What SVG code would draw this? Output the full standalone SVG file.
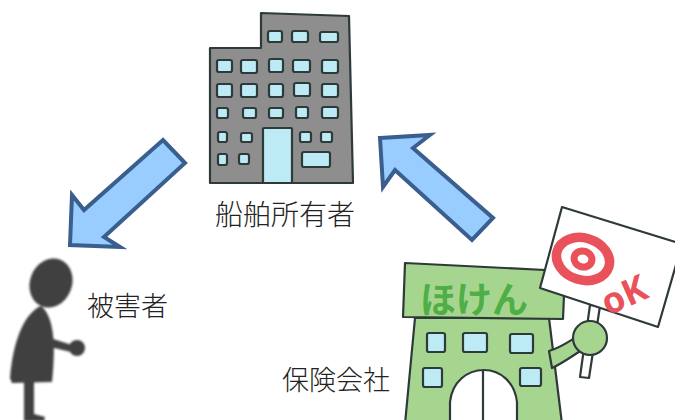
<svg xmlns="http://www.w3.org/2000/svg" width="675" height="420" viewBox="0 0 675 420">
  <defs>
    <filter id="soft" x="-10%" y="-10%" width="120%" height="120%">
      <feGaussianBlur stdDeviation="0.8"/>
    </filter>
  </defs>
  <style>
    .label { font-family: "Noto Sans CJK JP", "Noto Sans", sans-serif; font-weight: 300; fill: #222; font-size: 27px; }
    .ink { stroke: #2e3a3a; stroke-width: 2.2; stroke-linejoin: round; }
    .gray { fill: #8e8e8e; }
    .glass { fill: #bdebf5; }
    .green { fill: #a6d58f; }
    .paper { fill: #ffffff; }
    .arrow { fill: #99ccff; stroke: #3a5f8f; stroke-width: 4; stroke-linejoin: miter; }
    .red { fill: none; stroke: #e9525a; }
  </style>

  <rect width="675" height="420" fill="#ffffff"/>

  <!-- Ship owner: office tower -->
  <g id="node-shipowner">
    <path class="gray ink" d="M261 13 L349 16 L353 183 L210 183 L210 48 L261 48 Z"/>
    <g class="glass ink">
      <!-- tower row -->
      <rect x="268" y="31" width="14" height="11" rx="2"/>
      <rect x="292" y="31" width="16" height="11" rx="2"/>
      <rect x="320" y="32" width="18" height="10" rx="2"/>
      <!-- row 2 -->
      <rect x="217" y="60" width="15" height="12" rx="2"/>
      <rect x="241" y="60" width="16" height="13" rx="2"/>
      <rect x="269" y="59" width="14" height="13" rx="2"/>
      <rect x="293" y="60" width="17" height="12" rx="2"/>
      <rect x="322" y="60" width="16" height="13" rx="2"/>
      <!-- row 3 -->
      <rect x="217" y="84" width="15" height="13" rx="2"/>
      <rect x="241" y="84" width="16" height="13" rx="2"/>
      <rect x="269" y="84" width="14" height="13" rx="2"/>
      <rect x="294" y="83" width="16" height="13" rx="2"/>
      <rect x="322" y="84" width="16" height="13" rx="2"/>
      <!-- row 4 -->
      <rect x="217" y="108" width="11" height="10" rx="2"/>
      <rect x="243" y="108" width="13" height="10" rx="2"/>
      <rect x="269" y="108" width="14" height="10" rx="2"/>
      <rect x="296" y="107" width="12" height="11" rx="2"/>
      <rect x="322" y="107" width="16" height="11" rx="2"/>
      <!-- row 5 -->
      <rect x="218" y="132" width="9" height="10" rx="2"/>
      <rect x="241" y="133" width="11" height="9" rx="2"/>
      <rect x="300" y="132" width="11" height="10" rx="2"/>
      <rect x="321" y="132" width="11" height="10" rx="2"/>
      <!-- row 6 -->
      <rect x="218" y="154" width="9" height="11" rx="2"/>
      <rect x="239" y="154" width="10" height="10" rx="2"/>
      <rect x="302" y="152" width="28" height="15" rx="2"/>
      <!-- entrance -->
      <rect x="263" y="128" width="29" height="55" rx="1"/>
    </g>
    <text class="label" x="215" y="225" style="font-size:28px">船舶所有者</text>
  </g>

  <!-- Victim: standing figure -->
  <g id="node-victim">
    <g fill="#3f3f3f" filter="url(#soft)">
      <ellipse cx="51" cy="283" rx="21" ry="25" transform="rotate(22 51 283)"/>
      <path d="M41 306 C 26 312, 13 338, 10 378 L 12 383 L 52 382 C 55 352, 56 318, 41 306 Z"/>
      <path d="M50 338 L 72 345 L 71 352 L 50 347 Z"/>
      <circle cx="77" cy="348" r="8"/>
      <path d="M24 378 L 34 378 L 34 414 L 45 417 L 44 421 L 24 421 Z"/>
    </g>
    <text class="label" x="87" y="316">被害者</text>
  </g>

  <!-- Insurer: green building holding an OK sign -->
  <g id="node-insurer">
    <path class="green ink" d="M415 318 L549 318 L562 424 L405 424 Z"/>
    <g class="glass ink">
      <rect x="427" y="333" width="18" height="19" rx="2"/>
      <rect x="463" y="333" width="24" height="19" rx="2"/>
      <rect x="510" y="334" width="23" height="19" rx="2"/>
      <rect x="423" y="368" width="19" height="19" rx="2"/>
      <rect x="520" y="368" width="21" height="18" rx="2"/>
    </g>
    <path class="paper ink" d="M450 424 L450 402 C452 382, 467 370, 484 370 C501 370, 515 383, 517 402 L517 424 Z"/>
    <line class="ink" x1="483" y1="371" x2="483" y2="424"/>
    <path class="green ink" d="M405 263 L565 271 L563 319 L403 317 Z"/>
    <text x="420" y="313" font-family="'Noto Sans CJK JP', sans-serif" font-weight="700" font-size="36" fill="#4fae45" letter-spacing="0">ほけん</text>
    <!-- arm -->
    <path class="green ink" d="M549 351 C 560 348, 568 342, 578 336 L 582 350 C 572 356, 563 363, 552 368 Z"/>
    <!-- stick -->
    <path class="paper ink" d="M590 305 L600 306 L589 378 L580 377 Z"/>
    <circle class="green ink" cx="590" cy="338" r="17"/>
    <!-- sign board -->
    <path class="paper ink" d="M562 207 L682 244 L658 327 L540 288 Z"/>
    <g class="red" transform="rotate(17 583 259)">
      <ellipse cx="583" cy="259" rx="27" ry="21" stroke-width="9.5"/>
      <ellipse cx="583" cy="259" rx="9" ry="8" stroke-width="7"/>
    </g>
    <text x="608" y="316" transform="rotate(-24 608 316)" font-family="'Noto Sans', sans-serif" font-weight="700" font-size="36" fill="#e9525a">oK</text>
    <text class="label" x="282" y="390">保険会社</text>
  </g>

  <!-- Connectors -->
  <g id="connectors">
    <path class="arrow" d="M70 245 L72 195 L84 210 L163 140 L185 163 L104 237 L120 247 Z"/>
    <path class="arrow" d="M380 138 L430 135 L413 148 L493 218 L472 240 L395 170 L383 187 Z"/>
  </g>
</svg>
